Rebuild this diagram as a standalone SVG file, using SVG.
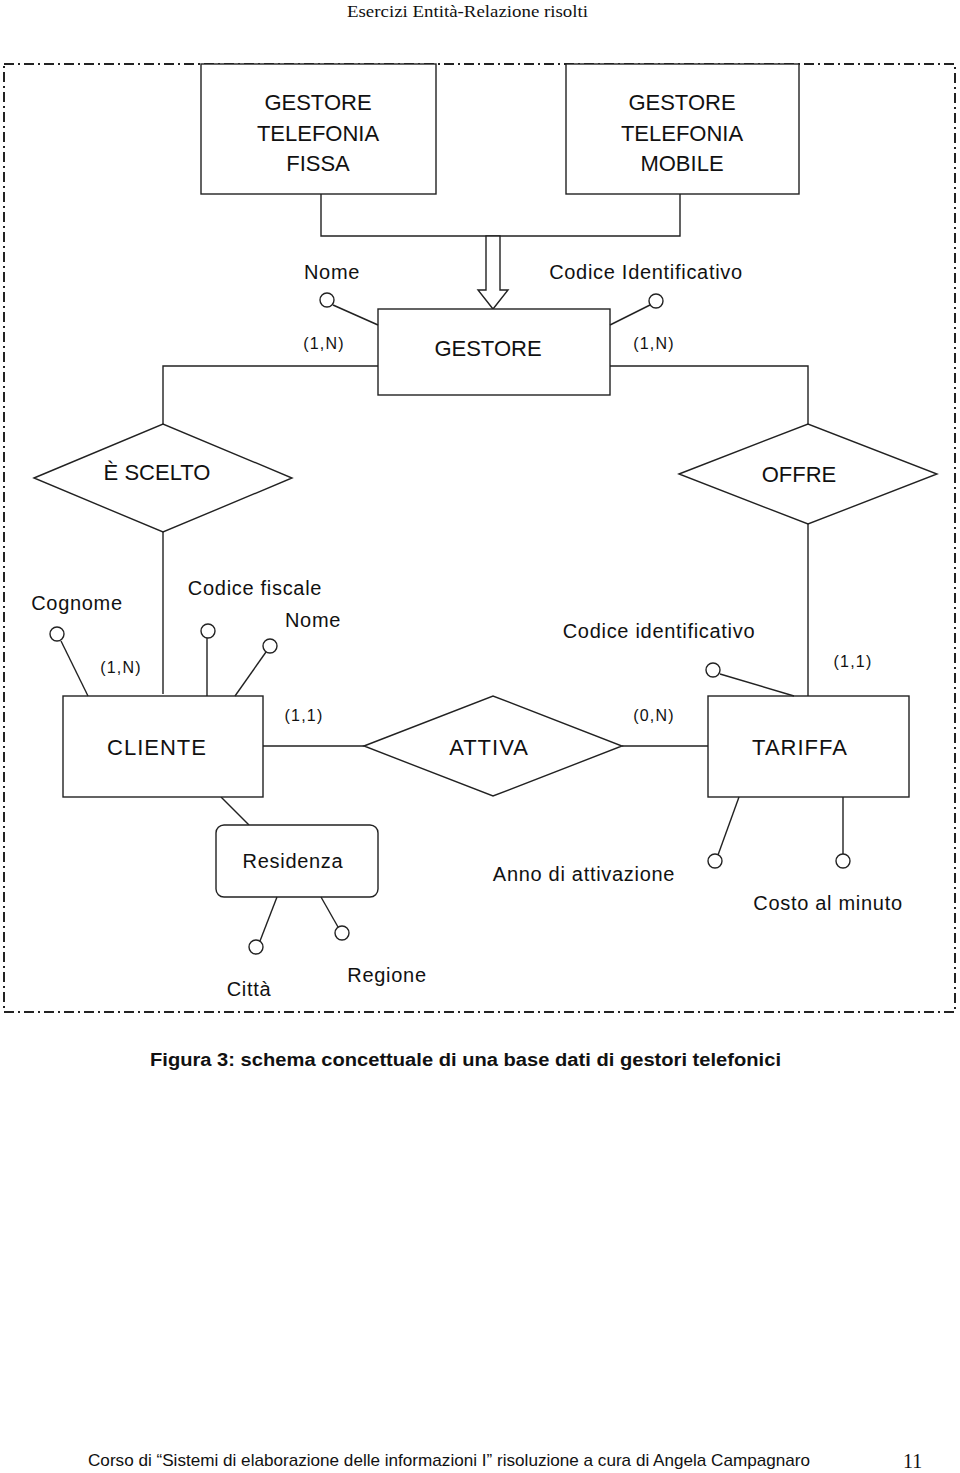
<svg xmlns="http://www.w3.org/2000/svg" width="960" height="1473" viewBox="0 0 960 1473">
<style>
.s{fill:none;stroke:#222;stroke-width:1.4}
.n{fill:#fff;stroke:#222;stroke-width:1.4}
.t{font-family:"Liberation Sans",Arial,sans-serif;fill:#111;text-anchor:middle}
.e{font-size:22px}
.a{font-size:20px;letter-spacing:0.7px}
.c{font-size:16px;letter-spacing:1.2px}
</style>
<rect width="960" height="1473" fill="#fff"/>
<text x="347" y="17" font-family="Liberation Serif,serif" font-size="17" fill="#111" textLength="241" lengthAdjust="spacingAndGlyphs">Esercizi Entità-Relazione risolti</text>
<rect x="4" y="64" width="951" height="948" fill="none" stroke="#222" stroke-width="2" stroke-dasharray="10 4 2 4"/>
<g id="connectors">
<path class="s" d="M321,194 V236 H680 V194"/>
<polygon class="n" points="486,236 500,236 500,290 508,290 493,309 478,290 486,290"/>
<path class="s" d="M378,366 H163 V424 M610,366 H808 V424"/>
<path class="s" d="M163,532 V694 M808,524 V696"/>
<path class="s" d="M263,746 H364 M622,746 H708"/>
<path class="s" d="M221,797 L249,825"/>
</g>
<g id="gestore-fissa"><rect class="n" x="201" y="64" width="235" height="130"/>
<text class="t e" x="318" y="110">GESTORE</text><text class="t e" x="318" y="141">TELEFONIA</text><text class="t e" x="318" y="171">FISSA</text></g>
<g id="gestore-mobile"><rect class="n" x="566" y="64" width="233" height="130"/>
<text class="t e" x="682" y="110">GESTORE</text><text class="t e" x="682" y="141">TELEFONIA</text><text class="t e" x="682" y="171">MOBILE</text></g>
<g id="gestore"><rect class="n" x="378" y="309" width="232" height="86"/>
<text class="t e" x="488" y="356">GESTORE</text></g>
<g id="gestore-nome"><line class="s" x1="333" y1="305" x2="378" y2="325"/><circle class="n" cx="327" cy="300" r="7"/>
<text class="t a" x="332" y="279">Nome</text></g>
<g id="gestore-codice"><line class="s" x1="650" y1="305" x2="610" y2="325"/><circle class="n" cx="656" cy="301" r="7"/>
<text class="t a" x="646" y="279">Codice Identificativo</text></g>
<text class="t c" x="324" y="349">(1,N)</text>
<text class="t c" x="654" y="349">(1,N)</text>
<g id="e-scelto"><polygon class="n" points="34,478 163,424 292,478 163,532"/>
<text class="t e" x="157" y="480">È SCELTO</text></g>
<g id="offre"><polygon class="n" points="679,474 808,424 937,474 808,524"/>
<text class="t e" x="799" y="482">OFFRE</text></g>
<g id="cliente"><rect class="n" x="63" y="696" width="200" height="101"/>
<text class="t e" x="157" y="755" letter-spacing="1">CLIENTE</text></g>
<g id="cliente-cognome"><line class="s" x1="61" y1="641" x2="88" y2="696"/><circle class="n" cx="57" cy="634" r="7"/>
<text class="t a" x="77" y="610">Cognome</text></g>
<g id="cliente-cf"><line class="s" x1="207" y1="638" x2="207" y2="696"/><circle class="n" cx="208" cy="631" r="7"/>
<text class="t a" x="255" y="595">Codice fiscale</text></g>
<g id="cliente-nome"><line class="s" x1="266" y1="652" x2="235" y2="696"/><circle class="n" cx="270" cy="646" r="7"/>
<text class="t a" x="313" y="627">Nome</text></g>
<text class="t c" x="121" y="673">(1,N)</text>
<text class="t c" x="304" y="721">(1,1)</text>
<g id="attiva"><polygon class="n" points="364,746 493,696 622,746 493,796"/>
<text class="t e" x="489" y="755" letter-spacing="1">ATTIVA</text></g>
<text class="t c" x="654" y="721">(0,N)</text>
<g id="tariffa"><rect class="n" x="708" y="696" width="201" height="101"/>
<text class="t e" x="800" y="755" letter-spacing="1">TARIFFA</text></g>
<g id="tariffa-codice"><line class="s" x1="720" y1="674" x2="794" y2="696"/><circle class="n" cx="713" cy="670" r="7"/>
<text class="t a" x="659" y="638">Codice identificativo</text></g>
<text class="t c" x="853" y="667">(1,1)</text>
<g id="residenza"><rect class="n" x="216" y="825" width="162" height="72" rx="8"/>
<text class="t a" x="293" y="868">Residenza</text></g>
<g id="citta"><line class="s" x1="277" y1="897" x2="260" y2="941"/><circle class="n" cx="256" cy="947" r="7"/>
<text class="t a" x="249" y="996">Città</text></g>
<g id="regione"><line class="s" x1="321" y1="897" x2="338" y2="927"/><circle class="n" cx="342" cy="933" r="7"/>
<text class="t a" x="387" y="982">Regione</text></g>
<g id="anno"><line class="s" x1="739" y1="797" x2="718" y2="855"/><circle class="n" cx="715" cy="861" r="7"/>
<text class="t a" x="584" y="881">Anno di attivazione</text></g>
<g id="costo"><line class="s" x1="843" y1="797" x2="843" y2="854"/><circle class="n" cx="843" cy="861" r="7"/>
<text class="t a" x="828" y="910">Costo al minuto</text></g>
<text x="150" y="1066" font-family="Liberation Sans,Arial,sans-serif" font-weight="bold" font-size="18" fill="#111" textLength="631" lengthAdjust="spacingAndGlyphs">Figura 3: schema concettuale di una base dati di gestori telefonici</text>
<text x="88" y="1466" font-family="Liberation Sans,Arial,sans-serif" font-size="17" fill="#111" textLength="722" lengthAdjust="spacingAndGlyphs">Corso di “Sistemi di elaborazione delle informazioni I” risoluzione a cura di Angela Campagnaro</text>
<text x="903" y="1468" font-family="Liberation Serif,serif" font-size="20" fill="#111">11</text>
</svg>
